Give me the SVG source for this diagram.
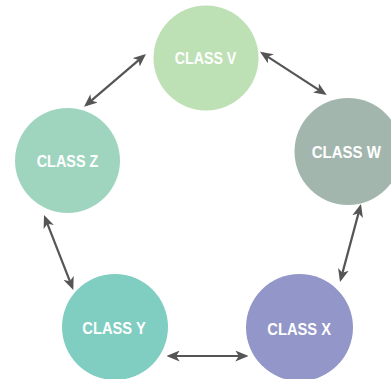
<svg xmlns="http://www.w3.org/2000/svg" width="391" height="379" viewBox="0 0 391 379">
<defs>
<style>
.lbl{font-family:"Liberation Sans",Arial,sans-serif;font-weight:bold;font-size:17px;fill:#ffffff;text-anchor:middle}
.conn line{stroke:#555555;stroke-width:2.2;marker-start:url(#ah);marker-end:url(#ah)}
</style>
<marker id="ah" viewBox="0 0 13 11" refX="10" refY="5.5" markerWidth="13" markerHeight="11" markerUnits="userSpaceOnUse" orient="auto-start-reverse">
<path d="M0,0 L13,5.5 L0,11 L3.5,5.5 z" fill="#555555"/>
</marker>
</defs>
<rect width="391" height="379" fill="#ffffff"/>
<g id="node-v"><circle cx="206" cy="58" r="52.5" fill="#bde0b5"/><text class="lbl" x="205.5" y="64.2" textLength="61.6" lengthAdjust="spacingAndGlyphs">CLASS V</text></g>
<g id="node-w"><circle cx="348" cy="151.5" r="53.5" fill="#a2b6ae"/><text class="lbl" x="346.3" y="158.2" textLength="69.3" lengthAdjust="spacingAndGlyphs">CLASS W</text></g>
<g id="node-x"><circle cx="299.5" cy="327.5" r="53.5" fill="#9296c8"/><text class="lbl" x="299.2" y="335.2" textLength="63.7" lengthAdjust="spacingAndGlyphs">CLASS X</text></g>
<g id="node-y"><circle cx="115" cy="327" r="53" fill="#80cdc1"/><text class="lbl" x="114" y="333.5" textLength="63.4" lengthAdjust="spacingAndGlyphs">CLASS Y</text></g>
<g id="node-z"><circle cx="67.5" cy="160.5" r="52.5" fill="#9fd5bf"/><text class="lbl" x="67.5" y="167.2" textLength="61.6" lengthAdjust="spacingAndGlyphs">CLASS Z</text></g>
<g id="connectors" class="conn">
<line x1="262.5" y1="53.3" x2="324.2" y2="93.4"/>
<line x1="86.3" y1="104.8" x2="143.7" y2="55.9"/>
<line x1="45.1" y1="217.8" x2="72.2" y2="287.2"/>
<line x1="169.7" y1="356" x2="245.3" y2="356"/>
<line x1="360.2" y1="206.9" x2="340.8" y2="279.1"/>
</g>
</svg>
